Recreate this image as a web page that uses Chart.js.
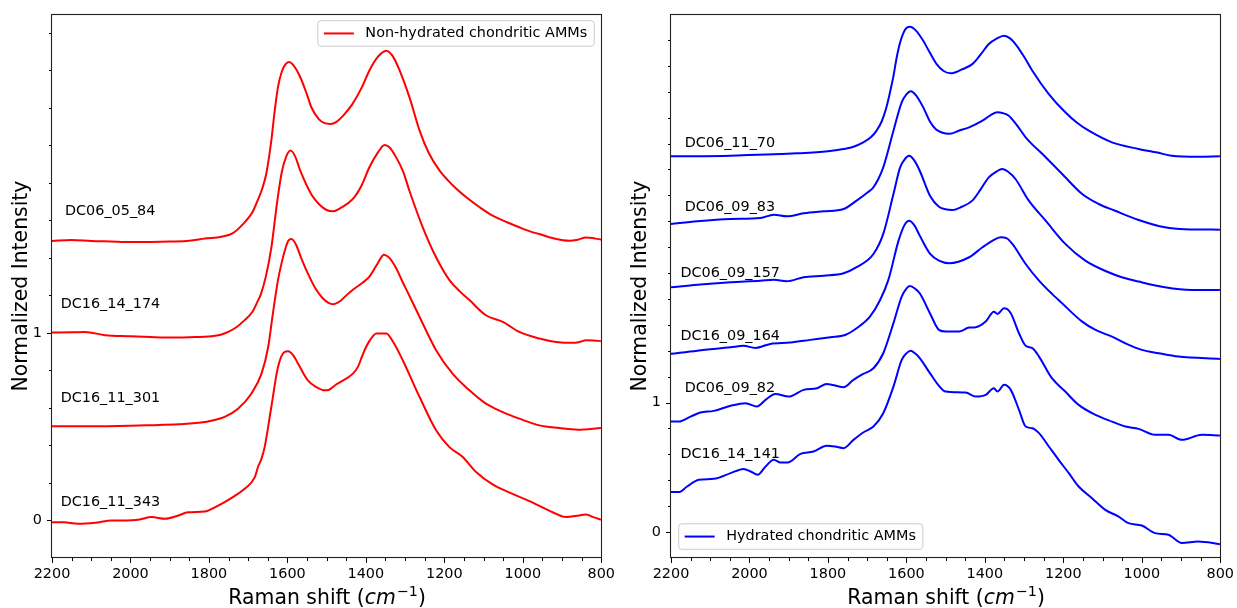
<!DOCTYPE html>
<html><head><meta charset="utf-8">
<script src="https://cdn.jsdelivr.net/npm/chart.js@4.4.1/dist/chart.umd.min.js"></script>
<style>
html,body{margin:0;padding:0;background:#fff;width:1237px;height:608px;overflow:hidden}
#l{position:absolute;left:0;top:0;width:618px;height:608px}
#r{position:absolute;left:618px;top:0;width:619px;height:608px}
</style></head>
<body>
<div id="l"><canvas id="cl"></canvas></div>
<div id="r"><canvas id="cr"></canvas></div>
<script>
// ---------- tick labels ----------
const xLabelTicks = [2200, 2000, 1800, 1600, 1400, 1200, 1000, 800];
const yLabelTicks = [0, 1];

// ---------- left panel: non-hydrated ----------
const L1_x = [2200,2150,2100,2050,2000,1950,1900,1850,1810,1768,1740,1709,1690,1676,1664,1654,1641,1632,1624,1614,1605,1596,1586,1568,1550,1539,1520,1505,1490,1475,1455,1434,1410,1391,1370,1348,1330,1314,1289,1263,1240,1212,1180,1144,1110,1077,1040,1009,980,958,920,881,860,839,820,800];
const L1_y = [1.49,1.495,1.49,1.487,1.484,1.485,1.487,1.491,1.503,1.513,1.53,1.589,1.64,1.705,1.77,1.847,2.025,2.19,2.31,2.395,2.432,2.444,2.43,2.367,2.27,2.203,2.14,2.118,2.114,2.125,2.165,2.221,2.31,2.399,2.47,2.504,2.47,2.399,2.257,2.078,1.96,1.865,1.79,1.723,1.67,1.625,1.59,1.563,1.54,1.527,1.503,1.491,1.497,1.509,1.505,1.497];

const L2_x = [2200,2150,2116,2065,2000,1950,1895,1850,1793,1770,1751,1730,1709,1690,1675,1668,1655,1641,1626,1614,1603,1592,1580,1568,1538,1518,1500,1484,1465,1433,1410,1391,1370,1352,1340,1323,1305,1289,1255,1221,1187,1160,1136,1094,1051,1009,958,915,873,855,839,820,801];
const L2_y = [1.002,1.003,1.005,0.988,0.982,0.978,0.975,0.977,0.982,0.99,1.005,1.03,1.068,1.11,1.172,1.204,1.3,1.453,1.70,1.86,1.94,1.972,1.94,1.869,1.735,1.683,1.655,1.648,1.665,1.714,1.79,1.883,1.96,2.002,1.99,1.937,1.86,1.758,1.563,1.403,1.281,1.22,1.175,1.094,1.059,1.005,0.97,0.952,0.947,0.952,0.961,0.96,0.956];

const L3_x = [2200,2100,2000,1950,1878,1810,1760,1726,1692,1666,1649,1637,1624,1614,1605,1598,1590,1578,1565,1548,1528,1510,1495,1484,1465,1450,1433,1407,1391,1370,1354,1340,1323,1306,1293,1263,1221,1179,1136,1094,1051,1009,958,907,860,801];
const L3_y = [0.502,0.502,0.505,0.508,0.513,0.525,0.552,0.596,0.676,0.783,0.925,1.103,1.281,1.38,1.45,1.49,1.50,1.47,1.40,1.317,1.235,1.185,1.16,1.153,1.17,1.2,1.23,1.27,1.30,1.37,1.417,1.40,1.346,1.27,1.215,1.085,0.908,0.783,0.694,0.623,0.578,0.543,0.507,0.493,0.484,0.493];

const L4_x = [2200,2170,2133,2090,2048,2010,1980,1946,1912,1880,1853,1810,1785,1760,1735,1709,1683,1675,1666,1658,1641,1624,1607,1598,1585,1573,1548,1525,1505,1495,1475,1433,1420,1407,1390,1373,1348,1330,1306,1263,1221,1187,1153,1119,1077,1026,983,924,890,856,839,820,801];
const L4_y = [-0.009,-0.01,-0.018,-0.012,0.0,0.0,0.004,0.018,0.009,0.025,0.044,0.048,0.07,0.098,0.13,0.169,0.231,0.285,0.33,0.391,0.605,0.818,0.899,0.902,0.88,0.837,0.747,0.71,0.694,0.696,0.726,0.783,0.82,0.89,0.96,0.997,0.997,0.95,0.854,0.658,0.481,0.391,0.338,0.258,0.192,0.142,0.103,0.044,0.018,0.027,0.032,0.018,0.004];

// ---------- right panel: hydrated ----------
const R1_x = [2200,2048,1879,1800,1760,1735,1710,1690,1676,1663,1650,1640,1633,1625,1616,1603,1591,1575,1557,1540,1523,1505,1487,1460,1432,1410,1390,1370,1351,1335,1322,1300,1279,1237,1195,1165,1135,1076,1008,960,924,856,801];
const R1_y = [2.901,2.906,2.924,2.94,2.958,2.975,3.009,3.05,3.10,3.17,3.29,3.42,3.52,3.66,3.78,3.88,3.901,3.87,3.793,3.70,3.613,3.56,3.542,3.57,3.613,3.69,3.768,3.81,3.832,3.81,3.768,3.67,3.562,3.382,3.241,3.16,3.099,3.009,2.958,2.93,2.906,2.898,2.901];

const R2_x = [2200,2133,2048,1972,1938,1905,1862,1811,1760,1727,1700,1684,1659,1633,1612,1600,1589,1575,1557,1540,1525,1510,1490,1465,1440,1406,1385,1368,1355,1339,1318,1296,1245,1203,1152,1110,1068,1008,941,890,801];
const R2_y = [2.379,2.400,2.417,2.425,2.451,2.438,2.461,2.477,2.495,2.559,2.62,2.662,2.816,3.099,3.318,3.38,3.403,3.37,3.279,3.17,3.11,3.085,3.075,3.10,3.125,3.176,3.22,3.241,3.235,3.215,3.14,3.048,2.894,2.765,2.610,2.533,2.481,2.410,2.353,2.338,2.335];

const R3_x = [2200,2133,2048,1972,1938,1905,1862,1811,1760,1727,1684,1659,1633,1616,1604,1593,1580,1566,1540,1517,1500,1483,1460,1432,1410,1390,1370,1356,1340,1322,1288,1245,1195,1144,1085,1051,1008,941,873,801];
const R3_y = [1.890,1.910,1.929,1.941,1.949,1.937,1.968,1.980,1.998,2.045,2.147,2.302,2.610,2.816,2.88,2.906,2.87,2.790,2.597,2.512,2.492,2.487,2.51,2.559,2.65,2.739,2.785,2.803,2.78,2.726,2.559,2.404,2.225,2.096,2.006,1.968,1.934,1.890,1.870,1.870];

const R4_x = [2200,2133,2048,2015,1985,1947,1896,1845,1794,1756,1727,1693,1667,1646,1620,1605,1593,1580,1566,1540,1517,1491,1440,1406,1380,1360,1345,1330,1296,1262,1229,1212,1152,1118,1076,1042,1000,957,907,801];
const R4_y = [1.376,1.401,1.427,1.438,1.422,1.453,1.463,1.484,1.505,1.522,1.574,1.664,1.792,1.947,2.25,2.37,2.404,2.37,2.289,2.15,2.096,2.076,2.122,2.199,2.25,2.276,2.27,2.225,2.070,1.941,1.839,1.792,1.625,1.561,1.509,1.458,1.407,1.381,1.355,1.337];

const R5_x = [2200,2180,2150,2125,2091,2048,2010,1981,1959,1934,1900,1862,1828,1803,1760,1735,1710,1684,1659,1633,1612,1600,1591,1578,1566,1540,1517,1500,1466,1440,1423,1398,1377,1368,1351,1334,1313,1296,1279,1262,1229,1195,1161,1118,1076,1042,1008,966,932,898,847,801];
const R5_y = [0.853,0.853,0.892,0.923,0.936,0.975,0.995,0.969,1.021,1.067,1.046,1.098,1.111,1.144,1.119,1.175,1.221,1.265,1.381,1.613,1.818,1.88,1.900,1.88,1.844,1.690,1.561,1.548,1.548,1.579,1.582,1.625,1.702,1.684,1.728,1.690,1.535,1.438,1.420,1.355,1.188,1.085,0.982,0.905,0.853,0.815,0.797,0.751,0.751,0.712,0.751,0.745];

const R6_x = [2200,2180,2159,2129,2091,2048,2015,1997,1979,1959,1938,1921,1903,1870,1837,1803,1782,1760,1735,1710,1684,1659,1633,1612,1600,1589,1578,1566,1540,1517,1500,1449,1423,1398,1377,1368,1351,1334,1313,1296,1279,1262,1237,1212,1186,1161,1127,1093,1059,1034,1000,966,932,898,856,801];
const R6_y = [0.309,0.309,0.352,0.404,0.411,0.455,0.488,0.468,0.442,0.506,0.558,0.537,0.537,0.604,0.622,0.666,0.660,0.648,0.712,0.769,0.815,0.918,1.123,1.329,1.38,1.401,1.38,1.343,1.227,1.129,1.085,1.077,1.046,1.059,1.111,1.085,1.137,1.098,0.944,0.815,0.802,0.764,0.661,0.558,0.455,0.352,0.262,0.172,0.120,0.069,0.051,-0.008,-0.021,-0.085,-0.073,-0.093];

// ---------- spectrum names (data coords) ----------
const leftNames = ['DC06_05_84','DC16_14_174','DC16_11_301','DC16_11_343'];
const leftNameX = [2167, 2178, 2178, 2178];
const leftNameY = [1.653, 1.156, 0.655, 0.105];
const rightNames = ['DC06_11_70','DC06_09_83','DC06_09_157','DC16_09_164','DC06_09_82','DC16_14_141'];
const rightNameX = [2165, 2165, 2176, 2176, 2165, 2176];
const rightNameY = [3.012, 2.512, 2.005, 1.517, 1.116, 0.612];

const FONT = '"DejaVu Sans", "Liberation Sans", sans-serif';
const FS = 14.4;

function pts(xs, ys) { return xs.map((x, i) => ({ x: x, y: ys[i] })); }

const deco = {
  id: 'deco',
  afterDraw(chart, args, o) {
    const ctx = chart.ctx, a = chart.chartArea, xs = chart.scales.x, ys = chart.scales.y;
    ctx.save();
    // ticks
    ctx.strokeStyle = '#000'; ctx.lineWidth = 1;
    ctx.beginPath();
    xs.ticks.forEach(t => {
      const p = Math.round(xs.getPixelForValue(t.value)) + 0.5;
      const len = xLabelTicks.includes(t.value) ? 5 : 3;
      ctx.moveTo(p, a.bottom); ctx.lineTo(p, a.bottom + len);
    });
    ys.ticks.forEach(t => {
      const p = ys.getPixelForValue(t.value);
      if (p < a.top + 1 || p > a.bottom - 1) return;
      const pp = Math.round(p) + 0.5;
      const major = yLabelTicks.some(v => Math.abs(v - t.value) < 1e-6);
      const len = major ? 5 : 3;
      ctx.moveTo(a.left, pp); ctx.lineTo(a.left - len, pp);
    });
    ctx.stroke();
    // frame
    ctx.strokeStyle = '#222'; ctx.lineWidth = 1.1;
    ctx.strokeRect(Math.round(a.left) - 0.5, Math.round(a.top) + 0.5, Math.round(a.right - a.left) + 1, Math.round(a.bottom - a.top) - 1);
    // names
    ctx.fillStyle = '#000';
    ctx.font = FS + 'px ' + FONT;
    ctx.textAlign = 'left'; ctx.textBaseline = 'middle';
    o.names.forEach((n, i) => {
      ctx.fillText(n, xs.getPixelForValue(o.nx[i]), ys.getPixelForValue(o.ny[i]) + 1);
    });
    // legend
    const tw = ctx.measureText(o.legend).width;
    const w = tw + 54.5, h = 25.5;
    let bx, by;
    if (o.corner === 'tr') { bx = a.right - 7 - w; by = a.top + 6.7; }
    else { bx = a.left + 7.7; by = a.bottom - 8.7 - h; }
    ctx.beginPath();
    const r = 3;
    ctx.moveTo(bx + r, by); ctx.lineTo(bx + w - r, by); ctx.quadraticCurveTo(bx + w, by, bx + w, by + r);
    ctx.lineTo(bx + w, by + h - r); ctx.quadraticCurveTo(bx + w, by + h, bx + w - r, by + h);
    ctx.lineTo(bx + r, by + h); ctx.quadraticCurveTo(bx, by + h, bx, by + h - r);
    ctx.lineTo(bx, by + r); ctx.quadraticCurveTo(bx, by, bx + r, by);
    ctx.closePath();
    ctx.fillStyle = 'rgba(255,255,255,0.8)'; ctx.fill();
    ctx.strokeStyle = '#cccccc'; ctx.lineWidth = 1; ctx.stroke();
    ctx.strokeStyle = o.color; ctx.lineWidth = 2;
    ctx.beginPath(); ctx.moveTo(bx + 6, by + h / 2); ctx.lineTo(bx + 36, by + h / 2); ctx.stroke();
    ctx.fillStyle = '#000';
    ctx.fillText(o.legend, bx + 47.5, by + h / 2);
    // x title with mathtext-like cm^-1
    const cx = (a.left + a.right) / 2, base = 604;
    const f1 = '20.4px ' + FONT, fi = 'italic 20.4px ' + FONT, fs = '14.3px ' + FONT;
    const parts = [['Raman shift (', f1, 0], ['cm', fi, 0], ['\u22121', fs, -8], [')', f1, 0]];
    let tot = 0;
    parts.forEach(p => { ctx.font = p[1]; p.push(ctx.measureText(p[0]).width); tot += p[3]; });
    let x0 = cx - tot / 2;
    ctx.textBaseline = 'alphabetic'; ctx.textAlign = 'left';
    parts.forEach(p => { ctx.font = p[1]; ctx.fillText(p[0], x0, base + p[2]); x0 += p[3] + (p[0] === 'cm' ? 1 : 0); });
    // y title
    ctx.save();
    ctx.translate(a.left - 25, (a.top + a.bottom) / 2);
    ctx.rotate(-Math.PI / 2);
    ctx.font = f1; ctx.textAlign = 'center'; ctx.textBaseline = 'alphabetic';
    ctx.fillText('Normalized Intensity', 0, 0);
    ctx.restore();
    ctx.restore();
  }
};

function makeChart(id, datasets, yMin, yMax, leftW, padRight, deco_opts) {
  return new Chart(document.getElementById(id), {
    type: 'line',
    data: { datasets: datasets },
    options: {
      responsive: true, maintainAspectRatio: false, animation: false, devicePixelRatio: 1,
      layout: { padding: { top: 14, right: padRight, left: 0, bottom: 0 } },
      plugins: { legend: { display: false }, tooltip: { enabled: false }, deco: deco_opts },
      elements: { point: { radius: 0 }, line: { borderWidth: 2, cubicInterpolationMode: 'monotone' } },
      scales: {
        x: {
          type: 'linear', reverse: true, min: 800, max: 2200,
          afterFit: s => { s.height = 50; },
          grid: { display: false, drawTicks: true, tickLength: 5 },
          border: { display: false },
          ticks: {
            stepSize: 50, autoSkip: false, maxRotation: 0, minRotation: 0, padding: 3,
            color: '#000', font: { family: FONT, size: FS },
            callback: v => xLabelTicks.includes(v) ? String(v) : ''
          }
        },
        y: {
          type: 'linear', min: yMin, max: yMax,
          afterFit: s => { s.width = leftW; },
          grid: { display: false, drawTicks: true, tickLength: 5 },
          border: { display: false },
          ticks: {
            stepSize: 0.2, autoSkip: false, padding: 5,
            color: '#000', font: { family: FONT, size: FS },
            callback: v => { const m = yLabelTicks.find(t => Math.abs(t - v) < 1e-6); return m === undefined ? '' : String(m); }
          }
        }
      }
    },
    plugins: [deco]
  });
}

const red = '#ff0000', blue = '#0000ff';
const lds = [pts(L1_x, L1_y), pts(L2_x, L2_y), pts(L3_x, L3_y), pts(L4_x, L4_y)].map(d => ({ data: d, borderColor: red, fill: false }));
const rds = [pts(R1_x, R1_y), pts(R2_x, R2_y), pts(R3_x, R3_y), pts(R4_x, R4_y), pts(R5_x, R5_y), pts(R6_x, R6_y)].map(d => ({ data: d, borderColor: blue, fill: false }));

makeChart('cl', lds, -0.2, 2.7, 52, 16, { names: leftNames, nx: leftNameX, ny: leftNameY, legend: 'Non-hydrated chondritic AMMs', color: red, corner: 'tr' });
makeChart('cr', rds, -0.2, 4.0, 53, 15, { names: rightNames, nx: rightNameX, ny: rightNameY, legend: 'Hydrated chondritic AMMs', color: blue, corner: 'bl' });
</script>
</body></html>
